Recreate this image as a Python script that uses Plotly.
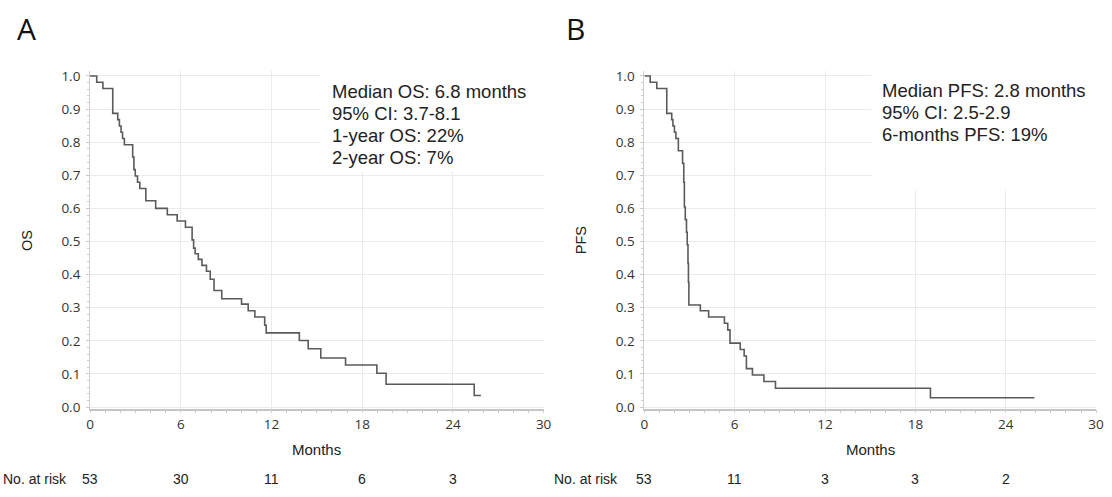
import plotly.graph_objects as go

# ---------------- data ----------------
os_months = [0, 0.44, 0.85, 1.5, 1.83, 1.94, 2.05, 2.15, 2.27, 2.82, 2.9, 2.99, 3.14, 3.29,
             3.69, 4.34, 5.11, 5.76, 6.31, 6.75, 6.85, 6.95, 7.16, 7.4, 7.7, 7.95, 8.2, 8.71,
             10.02, 10.46, 10.9, 11.55, 11.65, 13.84, 14.43, 15.26, 16.9, 18.97, 19.58, 25.41]
os_surv = [1.0, 0.981, 0.962, 0.887, 0.868, 0.849, 0.830, 0.811, 0.792, 0.755, 0.717, 0.698,
           0.679, 0.660, 0.623, 0.600, 0.581, 0.562, 0.543, 0.505, 0.480, 0.463, 0.446, 0.428,
           0.410, 0.386, 0.352, 0.327, 0.311, 0.291, 0.272, 0.247, 0.224, 0.201, 0.176, 0.148,
           0.127, 0.102, 0.069, 0.035]
os_end = 25.85

pfs_months = [0, 0.39, 0.83, 1.49, 1.82, 1.9, 2.0, 2.1, 2.26, 2.54, 2.62, 2.66, 2.72, 2.8,
              2.85, 2.9, 2.93, 2.96, 3.72, 4.27, 5.32, 5.54, 5.69, 6.37, 6.63, 6.78, 7.18,
              7.94, 8.71, 19.0]
pfs_surv = [1.0, 0.981, 0.962, 0.887, 0.868, 0.849, 0.830, 0.811, 0.774, 0.736, 0.679, 0.604,
            0.566, 0.528, 0.490, 0.434, 0.377, 0.308, 0.291, 0.272, 0.253, 0.233, 0.193, 0.174,
            0.154, 0.116, 0.097, 0.077, 0.057, 0.028]
pfs_end = 25.9

x_ticks = [0, 6, 12, 18, 24, 30]
y_ticks = [0.0, 0.1, 0.2, 0.3, 0.4, 0.5, 0.6, 0.7, 0.8, 0.9, 1.0]
risk_months = [0, 6, 12, 18, 24]
os_at_risk = [53, 30, 11, 6, 3]
pfs_at_risk = [53, 11, 3, 3, 2]
os_stats = ["Median OS: 6.8 months", "95% CI: 3.7-8.1", "1-year OS: 22%", "2-year OS: 7%"]
pfs_stats = ["Median PFS: 2.8 months", "95% CI: 2.5-2.9", "6-months PFS: 19%"]

# ---------------- layout helpers ----------------
W, H = 1112, 497


def fx(p):
    return p / W


def fy(p):
    return 1 - p / H


TOP, BOT = 68.0, 413.5
Y0, Y1 = 412.0, 72.7          # pixel rows of 0.0 and 1.0
scale = (Y0 - Y1)
y_range = [-(BOT - Y0) / scale, 1 + (Y1 - TOP) / scale]

CURVE = dict(shape='hv', color='#5a5a5a', width=1.6)
TICKFONT = dict(family='Open Sans', size=13.5, color='#333333')
TXT = dict(family='Liberation Sans, Arial', color='#222222')

fig = go.Figure()
fig.add_trace(go.Scatter(x=os_months + [os_end], y=os_surv + [os_surv[-1]], mode='lines',
                         line=CURVE, xaxis='x', yaxis='y', showlegend=False, hoverinfo='skip'))
fig.add_trace(go.Scatter(x=pfs_months + [pfs_end], y=pfs_surv + [pfs_surv[-1]], mode='lines',
                         line=CURVE, xaxis='x2', yaxis='y2', showlegend=False, hoverinfo='skip'))


def xax(x0, x1, anchor):
    return dict(domain=[fx(x0), fx(x1)], range=[0, 30], anchor=anchor, tickvals=x_ticks,
                showgrid=True, gridcolor='#ebebeb', gridwidth=1, zeroline=False,
                showline=True, linecolor='#c4c4c4', linewidth=1.5,
                ticks='outside', ticklen=3, tickcolor='#d0d0d0',
                minor=dict(dtick=1, ticks='outside', ticklen=3, tickcolor='#c8c8c8', showgrid=False),
                tickfont=TICKFONT, fixedrange=True)


def yax(anchor):
    return dict(domain=[fy(BOT), fy(TOP)], range=y_range, anchor=anchor, tickvals=y_ticks,
                tickformat='.1f', showgrid=True, gridcolor='#ebebeb', gridwidth=1, zeroline=False,
                showline=True, linecolor='#d0d0d0', linewidth=1,
                ticks='outside', ticklen=3, tickcolor='#c8c8c8',
                minor=dict(dtick=0.02, ticks='outside', ticklen=2, tickcolor='#cfcfcf', showgrid=False),
                tickfont=TICKFONT, ticklabelstandoff=3, fixedrange=True)


AX0, AX1 = 87.0, 545.5
BX0, BX1 = 647.3, 1104.0

annotations = []
shapes = []


def panel(letter, xl, xr, xref, ylabel, stats, stats_x, stats_y0, box, risk, risk_label_x, letter_x):
    cx = (xl + xr) / 2
    annotations.append(dict(text=letter, x=fx(letter_x), y=fy(24), xref='paper', yref='paper',
                            showarrow=False, xanchor='center', yanchor='middle',
                            font=dict(family='Open Sans', size=30, color='#111111')))
    annotations.append(dict(text=ylabel, x=fx(xl - 64), y=fy(241), xref='paper', yref='paper',
                            showarrow=False, textangle=-90, xanchor='center', yanchor='middle',
                            font=dict(size=14.5, **TXT)))
    annotations.append(dict(text='Months', x=fx(cx), y=fy(455), xref='paper', yref='paper',
                            showarrow=False, xanchor='center', yanchor='middle',
                            font=dict(size=15, **TXT)))
    shapes.append(dict(type='rect', xref='paper', yref='paper', x0=fx(box[0]), x1=fx(box[1]),
                       y0=fy(box[3]), y1=fy(box[2]), fillcolor='white', line=dict(width=0),
                       layer='above'))
    for i, s in enumerate(stats):
        annotations.append(dict(text=s, x=fx(stats_x), y=fy(stats_y0 + 22.5 * i), xref='paper',
                                yref='paper', showarrow=False, xanchor='left', yanchor='middle',
                                font=dict(size=18.5, **TXT)))
    annotations.append(dict(text='No. at risk', x=fx(risk_label_x), y=fy(486), xref='paper',
                            yref='paper', showarrow=False, xanchor='left', yanchor='middle',
                            font=dict(size=14, **TXT)))
    for m, n in zip(risk_months, risk):
        annotations.append(dict(text=str(n), x=m, y=fy(486), xref=xref, yref='paper',
                                showarrow=False, xanchor='center', yanchor='middle',
                                font=dict(size=14, **TXT)))


panel('A', AX0, AX1, 'x', 'OS', os_stats, 330, 88.3, (320, 550, 60, 171), os_at_risk, -3, 23)
panel('B', BX0, BX1, 'x2', 'PFS', pfs_stats, 886, 87.3, (877, 1110, 60, 190), pfs_at_risk, 554, 578)

fig.update_layout(
    width=W, height=H, autosize=False,
    margin=dict(l=0, r=0, t=0, b=0),
    paper_bgcolor='white', plot_bgcolor='white',
    xaxis=xax(AX0, AX1, 'y'), yaxis=yax('x'),
    xaxis2=xax(BX0, BX1, 'y2'), yaxis2=yax('x2'),
    annotations=annotations, shapes=shapes,
    showlegend=False,
)

fig.write_html("out.html", config={'displayModeBar': False},
               post_script="document.body.style.margin='0';document.body.style.overflow='hidden';")
